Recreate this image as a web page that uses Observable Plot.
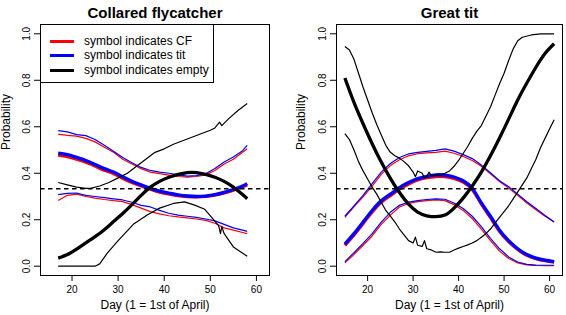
<!DOCTYPE html>
<html><head><meta charset="utf-8">
<script src="https://cdn.jsdelivr.net/npm/d3@7"></script>
<script src="https://cdn.jsdelivr.net/npm/@observablehq/plot@0.6"></script>
<style>
body{margin:0;background:#fff;}
#wrap{position:relative;width:566px;height:315px;font-family:"Liberation Sans",Arial,Helvetica,sans-serif;background:#fff;}
.panel{position:absolute;top:0;}
#legend{position:absolute;left:40px;top:24px;width:174px;height:59px;border:1px solid #000;background:#fff;box-sizing:border-box;font-size:12px;color:#000;}
#legend .row{position:absolute;left:0;height:14px;line-height:14px;white-space:nowrap;}
#legend .sw{position:absolute;left:9px;top:6px;width:24px;height:3px;}
#legend .lb{position:absolute;left:43px;top:0;}
</style>
</head><body>
<div id="wrap"></div>
<script>
// ---------- shared axis settings ----------
const xDomain = [13.16, 62.84];
const yDomain = [-0.04, 1.04];
const xTicks = [20, 30, 40, 50, 60];
const yTicks = [0, 0.2, 0.4, 0.6, 0.8, 1.0];
const titles = ["Collared flycatcher", "Great tit"];
const xLabel = "Day (1 = 1st of April)";
const yLabel = "Probability";
const legendLabels = ["symbol indicates CF", "symbol indicates tit", "symbol indicates empty"];
const colors = {cf: "#ff0000", tit: "#0000ff", empty: "#000000"};
const refLine = 1 / 3;

// ---------- Collared flycatcher panel ----------
const cfDays = [17,19,21,23,25,27,29,31,33,35,37,39,41,43,45,47,49,51,53,55,57,58];
const cfMeanCF   = [0.478,0.471,0.460,0.447,0.431,0.413,0.399,0.378,0.360,0.345,0.331,0.319,0.311,0.304,0.300,0.298,0.300,0.306,0.315,0.327,0.342,0.350];
const cfMeanTit  = [0.487,0.480,0.468,0.455,0.438,0.420,0.405,0.385,0.366,0.350,0.335,0.323,0.314,0.307,0.302,0.300,0.302,0.308,0.318,0.330,0.345,0.355];
const cfMeanEmpty= [0.035,0.050,0.073,0.100,0.127,0.157,0.192,0.227,0.265,0.305,0.340,0.365,0.383,0.395,0.403,0.403,0.395,0.383,0.365,0.340,0.308,0.290];
const cfUpCF     = [0.568,0.563,0.560,0.550,0.535,0.512,0.490,0.460,0.440,0.420,0.405,0.398,0.392,0.386,0.383,0.386,0.393,0.412,0.440,0.460,0.490,0.505];
const cfUpTit    = [0.583,0.578,0.566,0.562,0.545,0.520,0.495,0.468,0.445,0.425,0.412,0.405,0.400,0.393,0.388,0.390,0.398,0.420,0.448,0.470,0.497,0.520];
const cfLoCF     = [0.283,0.305,0.310,0.300,0.293,0.287,0.282,0.278,0.265,0.250,0.235,0.225,0.217,0.212,0.208,0.203,0.197,0.185,0.165,0.155,0.145,0.140];
const cfLoTit    = [0.308,0.313,0.315,0.305,0.300,0.295,0.290,0.285,0.275,0.262,0.255,0.240,0.228,0.220,0.215,0.210,0.203,0.195,0.180,0.165,0.155,0.150];
const cfUpEmptyDays = [17,19,21,23,24,26,28,30,32,34,36,38,40,42,44,46,48,50,51,52,52.5,54,56,58];
const cfUpEmpty     = [0.360,0.350,0.340,0.335,0.335,0.345,0.360,0.380,0.400,0.430,0.460,0.490,0.505,0.525,0.540,0.555,0.570,0.585,0.595,0.620,0.605,0.635,0.670,0.700];
const cfLoEmptyDays = [17,25,26,27.6,30,33.3,36.3,39,42,44.4,46.6,48.8,50.7,51.8,52.2,52.5,53,55,58];
const cfLoEmpty     = [0,0,0.010,0.055,0.110,0.180,0.220,0.250,0.270,0.277,0.263,0.245,0.200,0.175,0.140,0.170,0.140,0.083,0.043];

// ---------- Great tit panel ----------
const gtDays = [15,17,19,21,23,25,27,29,31,33,35,37,39,41,43,45,47,49,51,53,55,57,59,61];
const gtMeanCF   = [0.090,0.135,0.184,0.233,0.275,0.304,0.332,0.354,0.371,0.381,0.386,0.385,0.378,0.362,0.330,0.268,0.210,0.150,0.106,0.072,0.047,0.033,0.024,0.018];
const gtMeanTit  = [0.095,0.140,0.190,0.240,0.282,0.310,0.338,0.360,0.377,0.387,0.393,0.392,0.384,0.368,0.335,0.272,0.215,0.155,0.110,0.075,0.050,0.035,0.026,0.020];
const gtMeanEmpty= [0.810,0.705,0.613,0.527,0.448,0.378,0.317,0.267,0.233,0.217,0.213,0.220,0.250,0.293,0.345,0.405,0.475,0.552,0.633,0.715,0.788,0.856,0.915,0.957];
const gtUpCF     = [0.210,0.255,0.298,0.345,0.395,0.433,0.458,0.475,0.484,0.488,0.490,0.495,0.486,0.472,0.455,0.430,0.398,0.364,0.336,0.305,0.272,0.243,0.215,0.190];
const gtUpTit    = [0.215,0.260,0.305,0.355,0.405,0.442,0.468,0.483,0.490,0.494,0.498,0.505,0.495,0.480,0.463,0.435,0.402,0.368,0.342,0.310,0.277,0.248,0.218,0.190];
const gtLoCF     = [0.015,0.050,0.090,0.130,0.180,0.220,0.255,0.270,0.278,0.282,0.285,0.282,0.265,0.240,0.205,0.160,0.110,0.065,0.033,0.014,0.006,0.003,0.002,0.002];
const gtLoTit    = [0.020,0.058,0.098,0.140,0.190,0.232,0.262,0.276,0.282,0.287,0.290,0.288,0.272,0.248,0.215,0.170,0.120,0.075,0.040,0.018,0.008,0.005,0.004,0.004];
const gtUpEmptyDays = [15,16,17,18,19,20,21,22,23,24,25,26,27,28,29,30,30.5,31,32,32.5,33,33.5,34,35,36,37,38,39,40,41,42,43,44,45,46,47,48,49,50,51,52,53,54,56,58,61];
const gtUpEmpty     = [0.945,0.930,0.890,0.830,0.770,0.715,0.660,0.610,0.565,0.520,0.490,0.475,0.465,0.450,0.432,0.405,0.385,0.410,0.400,0.380,0.385,0.405,0.390,0.392,0.393,0.400,0.410,0.430,0.455,0.485,0.515,0.550,0.580,0.605,0.645,0.685,0.735,0.785,0.830,0.885,0.935,0.970,0.985,0.995,1.000,1.000];
const gtLoEmptyDays = [15,16,17,18,19,20,21,22,23,24,25,26,27,28,29,30,30.5,31,32,32.5,33,34,35,36,37,38,39,40,41,42,43,44,45,46,47,48,49,50,51,52,53,54,55,56,57,58,59,60,61];
const gtLoEmpty     = [0.570,0.545,0.500,0.450,0.410,0.375,0.340,0.310,0.275,0.240,0.215,0.190,0.160,0.135,0.110,0.100,0.125,0.090,0.085,0.110,0.075,0.070,0.060,0.062,0.060,0.060,0.070,0.078,0.085,0.092,0.100,0.110,0.125,0.140,0.160,0.185,0.210,0.235,0.260,0.290,0.320,0.350,0.380,0.420,0.460,0.510,0.550,0.590,0.630];

function series(days, vals, color, thick) {
  return {data: days.map((d, i) => ({day: d, v: vals[i]})), color, thick};
}

function panel(opt) {
  const {title, marginLeft, marginRight, lines, yLabelDx} = opt;
  const marks = [
    Plot.frame({stroke: "black", strokeWidth: 1}),
    Plot.axisX({ticks: xTicks, tickSize: 6, tickPadding: 4, label: null, fontSize: 10}),
    Plot.axisY({ticks: yTicks, tickSize: 6, tickRotate: -90, tickPadding: 5, tickFormat: d => d.toFixed(1), label: null, fontSize: 10}),
  ];
  for (const s of lines) {
    marks.push(Plot.line(s.data, {x: "day", y: "v", stroke: s.color,
      strokeWidth: s.thick ? 3.3 : 1.2, curve: s.thick ? "natural" : "linear",
      strokeLinejoin: "round", strokeLinecap: "butt"}));
  }
  marks.push(Plot.ruleY([refLine], {stroke: "black", strokeWidth: 1.3, strokeDasharray: "4.5,3.5"}));
  marks.push(Plot.text([title], {frameAnchor: "top", dy: -17, fontSize: 15, fontWeight: "bold", fill: "black"}));
  marks.push(Plot.text([xLabel], {frameAnchor: "bottom", dy: 33, fontSize: 12, fill: "black"}));
  marks.push(Plot.text([yLabel], {frameAnchor: "left", dx: yLabelDx, rotate: -90, fontSize: 12, fill: "black"}));
  return Plot.plot({
    width: 283, height: 315,
    marginLeft, marginRight, marginTop: 24, marginBottom: 40,
    x: {domain: xDomain}, y: {domain: yDomain},
    style: {fontFamily: '"Liberation Sans", Arial, Helvetica, sans-serif', fontSize: "10px", color: "black", background: "white"},
    marks
  });
}

const left = panel({
  title: titles[0], marginLeft: 40, marginRight: 14, yLabelDx: -34,
  lines: [
    series(cfDays, cfUpCF, colors.cf, false),
    series(cfDays, cfLoCF, colors.cf, false),
    series(cfDays, cfMeanCF, colors.cf, true),
    series(cfDays, cfUpTit, colors.tit, false),
    series(cfDays, cfLoTit, colors.tit, false),
    series(cfDays, cfMeanTit, colors.tit, true),
    series(cfUpEmptyDays, cfUpEmpty, colors.empty, false),
    series(cfLoEmptyDays, cfLoEmpty, colors.empty, false),
    series(cfDays, cfMeanEmpty, colors.empty, true),
  ]
});
const right = panel({
  title: titles[1], marginLeft: 53, marginRight: 4, yLabelDx: -35,
  lines: [
    series(gtDays, gtUpCF, colors.cf, false),
    series(gtDays, gtLoCF, colors.cf, false),
    series(gtDays, gtMeanCF, colors.cf, true),
    series(gtDays, gtUpTit, colors.tit, false),
    series(gtDays, gtLoTit, colors.tit, false),
    series(gtDays, gtMeanTit, colors.tit, true),
    series(gtUpEmptyDays, gtUpEmpty, colors.empty, false),
    series(gtLoEmptyDays, gtLoEmpty, colors.empty, false),
    series(gtDays, gtMeanEmpty, colors.empty, true),
  ]
});

const wrap = document.getElementById("wrap");
left.classList.add("panel"); left.style.left = "0px";
right.classList.add("panel"); right.style.left = "283px";
wrap.appendChild(left);
wrap.appendChild(right);

// legend (left panel)
const legend = document.createElement("div");
legend.id = "legend";
const legendColors = [colors.cf, colors.tit, colors.empty];
const rowTops = [9, 23, 38];
legendLabels.forEach((lab, i) => {
  const row = document.createElement("div");
  row.className = "row";
  row.style.top = rowTops[i] + "px";
  const sw = document.createElement("span");
  sw.className = "sw"; sw.style.background = legendColors[i];
  const lb = document.createElement("span");
  lb.className = "lb"; lb.textContent = lab;
  row.appendChild(sw); row.appendChild(lb);
  legend.appendChild(row);
});
wrap.appendChild(legend);
</script>
</body></html>
